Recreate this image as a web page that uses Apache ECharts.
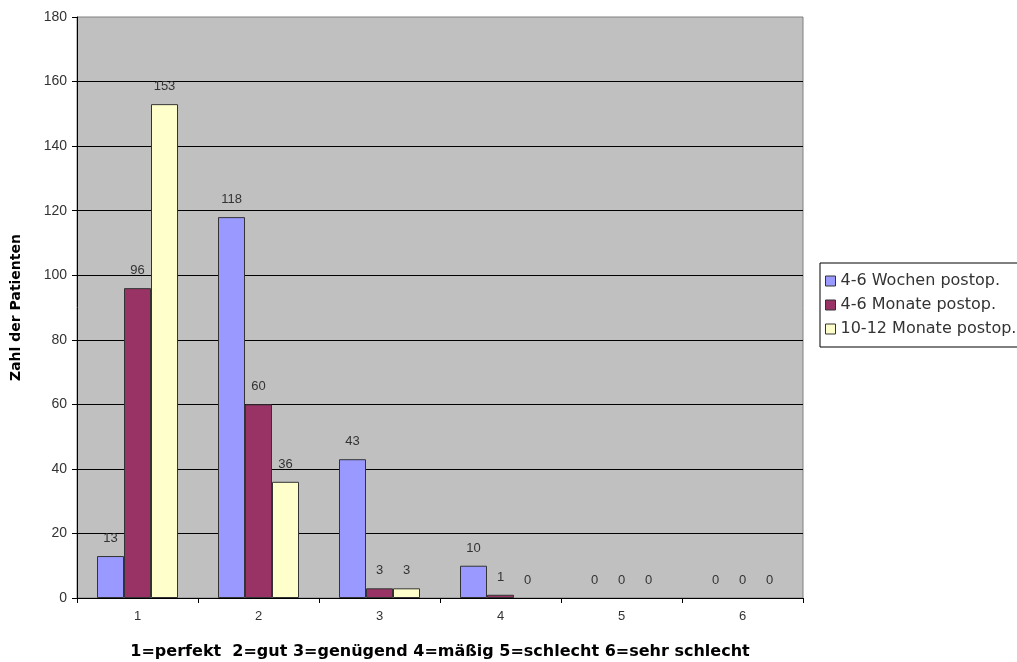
<!DOCTYPE html>
<html>
<head>
<meta charset="utf-8">
<script src="https://cdn.jsdelivr.net/npm/echarts@6/dist/echarts.min.js"></script>
<style>
  html, body { margin: 0; padding: 0; background: #fff; }
  #chart { width: 1017px; height: 662px; }
</style>
</head>
<body>
<div id="chart"></div>
<script>
const categories = ['1', '2', '3', '4', '5', '6'];
const wochen = [13, 118, 43, 10, 0, 0];
const monate = [96, 60, 3, 1, 0, 0];
const monate12 = [153, 36, 3, 0, 0, 0];
const seriesNames = ['4-6 Wochen postop.', '4-6 Monate postop.', '10-12 Monate postop.'];
const colors = ['#9999FF', '#993366', '#FFFFCC'];

const font = 'Liberation Sans, Arial, sans-serif';
const wideFont = 'DejaVu Sans, sans-serif';
const chart = echarts.init(document.getElementById('chart'));

function bar(name, data, color) {
  return {
    name,
    type: 'bar',
    // zero bars draw nothing in the original, so drop their outline
    data: data.map((v) => (v === 0 ? { value: v, itemStyle: { borderWidth: 0 } } : v)),
    barWidth: 27,
    barGap: '0%',
    itemStyle: { color, borderColor: '#333', borderWidth: 1 },
    label: {
      show: true,
      position: 'top',
      distance: 11,
      color: '#333',
      fontFamily: font,
      fontSize: 13,
    },
  };
}

chart.setOption({
  animation: false,
  color: colors,
  grid: {
    left: 77,
    right: 214,
    top: 17,
    bottom: 64,
    outerBoundsMode: 'none',
    show: true,
    backgroundColor: '#C0C0C0',
    borderColor: '#808080',
    borderWidth: 1,
  },
  legend: {
    orient: 'vertical',
    left: 820,
    top: 263,
    icon: 'rect',
    itemWidth: 10,
    itemHeight: 10,
    itemGap: 8,
    padding: [10, 10, 10, 5],
    borderColor: '#000',
    borderWidth: 1,
    backgroundColor: '#fff',
    textStyle: { fontFamily: wideFont, fontSize: 16, color: '#333' },
    itemStyle: { borderColor: '#333', borderWidth: 1 },
    data: seriesNames,
  },
  xAxis: {
    type: 'category',
    data: categories,
    name: '1=perfekt  2=gut 3=genügend 4=mäßig 5=schlecht 6=sehr schlecht',
    nameLocation: 'middle',
    nameGap: 46,
    nameTextStyle: { fontFamily: wideFont, fontSize: 16, fontWeight: 'bold', color: '#000' },
    axisLine: { lineStyle: { color: '#000' } },
    axisTick: { show: true, length: 5, lineStyle: { color: '#000' } },
    axisLabel: { fontFamily: font, fontSize: 13, color: '#333', margin: 12 },
  },
  yAxis: {
    type: 'value',
    min: 0,
    max: 180,
    interval: 20,
    name: 'Zahl der Patienten',
    nameLocation: 'middle',
    nameGap: 54,
    nameTextStyle: { fontFamily: wideFont, fontSize: 14, fontWeight: 'bold', color: '#000' },
    axisLine: { show: true, lineStyle: { color: '#000' } },
    axisTick: { show: true, length: 5, lineStyle: { color: '#000' } },
    axisLabel: { fontFamily: font, fontSize: 14, color: '#333', margin: 10 },
    splitLine: { show: true, showMaxLine: false, lineStyle: { color: '#000', width: 1 } },
  },
  series: [
    bar(seriesNames[0], wochen, colors[0]),
    bar(seriesNames[1], monate, colors[1]),
    bar(seriesNames[2], monate12, colors[2]),
  ],
});
</script>
</body>
</html>
